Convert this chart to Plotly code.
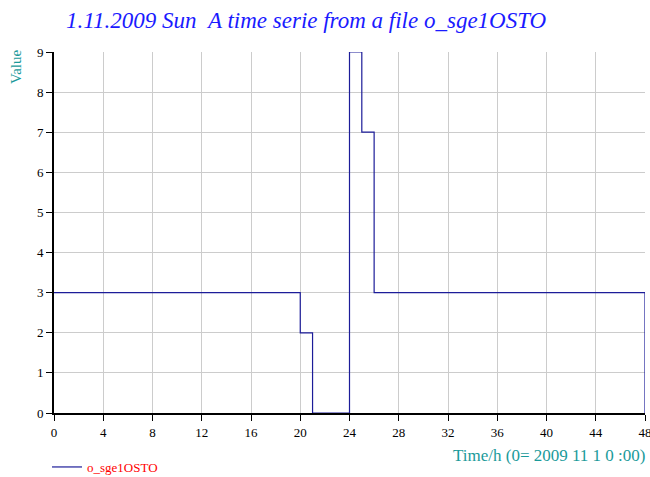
import plotly.graph_objects as go

# Hourly values of o_sge1OSTO, held until the next hour (step series)
hours = list(range(0, 49))
values = [3] * 20 + [2] + [0] * 3 + [9, 7] + [3] * 22 + [0]

series_name = "o_sge1OSTO"
title_text = "1.11.2009 Sun\u00a0\u00a0A time serie from a file o_sge1OSTO"
x_label = "Time/h (0= 2009 11 1 0 :00)"
y_label = "Value"
x_ticks = list(range(0, 49, 4))
y_ticks = list(range(0, 10))

serif = "Liberation Serif, Times New Roman, serif"
teal = "#1a9a9a"

fig = go.Figure()
fig.add_trace(go.Scatter(
    x=hours, y=values, mode="lines", name=series_name,
    line=dict(color="#1c1c99", width=1.2, shape="hv"),
    cliponaxis=False,
))

axis_common = dict(
    showgrid=True, gridcolor="#cccccc", gridwidth=1,
    showline=True, linecolor="black", linewidth=2,
    ticks="outside", ticklen=6, tickcolor="black", tickwidth=1,
    zeroline=False, tickfont=dict(family=serif, size=13),
    ticklabeloverflow="allow",
)

fig.update_layout(
    width=650, height=477,
    margin=dict(l=54, r=5, t=52, b=64, autoexpand=False),
    paper_bgcolor="white", plot_bgcolor="white",
    title=dict(text=title_text, x=66 / 650, xanchor="left", y=1 - 20 / 477, yanchor="middle",
               font=dict(family=serif, size=23, color="#1a1aff", style="italic")),
    font=dict(family=serif, size=13, color="black"),
    showlegend=True,
    legend=dict(xref="container", yref="container", x=47 / 650, xanchor="left",
                y=1 - 467 / 477, yanchor="middle",
                font=dict(family=serif, size=13, color="red"), bgcolor="rgba(0,0,0,0)"),
    xaxis=dict(range=[0, 48], tickvals=x_ticks, ticktext=[str(t) for t in x_ticks], **axis_common),
    yaxis=dict(range=[0, 9], tickvals=y_ticks, ticktext=[str(t) for t in y_ticks], **axis_common),
    annotations=[
        dict(text=x_label, xref="paper", yref="paper", x=1.005, y=-42 / 361,
             xanchor="right", yanchor="middle", showarrow=False,
             font=dict(family=serif, size=17, color=teal)),
        dict(text=y_label, xref="paper", yref="paper", x=-38 / 591, y=1 - 15 / 361,
             xanchor="center", yanchor="middle", textangle=-90, showarrow=False,
             font=dict(family=serif, size=15, color=teal)),
    ],
)

fig.write_html("out.html")
